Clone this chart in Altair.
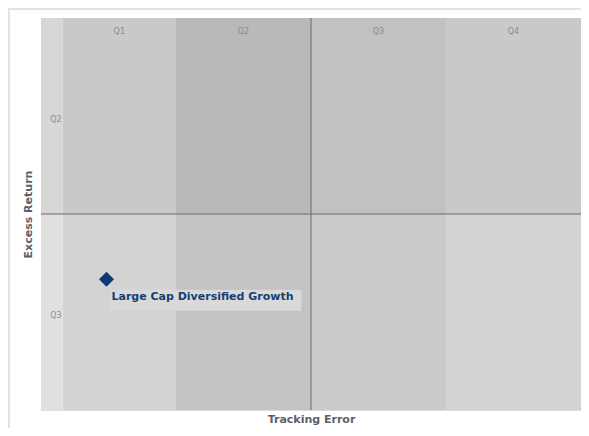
import altair as alt
import pandas as pd

# Band edges (Tracking Error on x, Excess Return on y)
x_edges = [0, 0.32, 2, 4, 6, 8]
y_edges = [-4, 0, 4]
col_names = ["", "Q1", "Q2", "Q3", "Q4"]
row_names = ["Q3", "Q2"]  # bottom, top
top_colors = ["#d7d7d7", "#c9c9c9", "#b9b9b9", "#c1c1c1", "#c9c9c9"]
bottom_colors = ["#e0e0e0", "#d3d3d3", "#c3c3c3", "#cacaca", "#d3d3d3"]

# Data point
funds = ["Large Cap Diversified Growth"]
tracking_error = [0.97]
excess_return = [-1.33]

bands = []
for r in range(2):
    colors = bottom_colors if r == 0 else top_colors
    for c in range(5):
        bands.append({"x": x_edges[c], "x2": x_edges[c + 1],
                      "y": y_edges[r], "y2": y_edges[r + 1], "color": colors[c]})
bands_df = pd.DataFrame(bands)

col_labels_df = pd.DataFrame({
    "x": [(x_edges[c] + x_edges[c + 1]) / 2 for c in range(1, 5)],
    "y": [y_edges[-1]] * 4,
    "label": col_names[1:],
})
row_labels_df = pd.DataFrame({
    "x": [x_edges[1]] * 2,
    "y": [(y_edges[r] + y_edges[r + 1]) / 2 for r in range(2)],
    "label": row_names,
})
pts_df = pd.DataFrame({"fund": funds, "te": tracking_error, "er": excess_return})
mid_df = pd.DataFrame({"xm": [x_edges[3]], "ym": [0]})

xs = alt.Scale(domain=[x_edges[0], x_edges[-1]], nice=False, zero=False)
ys = alt.Scale(domain=[y_edges[0], y_edges[-1]], nice=False, zero=False)

title_color = "#5b5f6b"
x_axis = alt.Axis(labels=False, ticks=False, domain=False, grid=False,
                  title="Tracking Error", titleFont="DejaVu Sans", titleFontSize=11,
                  titleFontWeight="bold", titleColor=title_color, titlePadding=3)
y_axis = alt.Axis(labels=False, ticks=False, domain=False, grid=False,
                  title="Excess Return", titleFont="DejaVu Sans", titleFontSize=11,
                  titleFontWeight="bold", titleColor=title_color, titlePadding=8)

rects = alt.Chart(bands_df).mark_rect().encode(
    x=alt.X("x:Q", scale=xs, axis=x_axis),
    x2="x2:Q",
    y=alt.Y("y:Q", scale=ys, axis=y_axis),
    y2="y2:Q",
    color=alt.Color("color:N", scale=None),
)

vline = alt.Chart(mid_df).mark_rule(color="#6a6a6a", strokeWidth=1).encode(
    x=alt.X("xm:Q", scale=xs))
hline = alt.Chart(mid_df).mark_rule(color="#6a6a6a", strokeWidth=1).encode(
    y=alt.Y("ym:Q", scale=ys))

col_text = alt.Chart(col_labels_df).mark_text(
    font="DejaVu Sans", fontSize=8, color="#8a8a8a", dy=14, baseline="middle"
).encode(x=alt.X("x:Q", scale=xs), y=alt.Y("y:Q", scale=ys), text="label:N")

row_text = alt.Chart(row_labels_df).mark_text(
    font="DejaVu Sans", fontSize=8, color="#8a8a8a", dx=-1, dy=4,
    align="right", baseline="middle"
).encode(x=alt.X("x:Q", scale=xs), y=alt.Y("y:Q", scale=ys), text="label:N")

label_box = alt.Chart(pts_df).mark_rect(
    color="#d9d9d9", xOffset=4, x2Offset=195, yOffset=10.5, y2Offset=31.5
).encode(x=alt.X("te:Q", scale=xs), x2="te:Q",
         y=alt.Y("er:Q", scale=ys), y2="er:Q")

points = alt.Chart(pts_df).mark_point(
    shape="diamond", filled=True, size=225, color="#0c3a6e", opacity=1
).encode(x=alt.X("te:Q", scale=xs), y=alt.Y("er:Q", scale=ys))

pt_text = alt.Chart(pts_df).mark_text(
    font="DejaVu Sans", fontSize=11, fontWeight="bold", color="#163f73",
    align="left", baseline="alphabetic", dx=5, dy=21
).encode(x=alt.X("te:Q", scale=xs), y=alt.Y("er:Q", scale=ys), text="fund:N")

frame_top = alt.Chart(mid_df).mark_rule(color="#e3e3e3", strokeWidth=2).encode(
    x=alt.value(-33), x2=alt.value(545), y=alt.value(-9))
frame_left = alt.Chart(mid_df).mark_rule(color="#e3e3e3", strokeWidth=2).encode(
    x=alt.value(-32), y=alt.value(-10), y2=alt.value(420))

chart = alt.layer(
    rects, vline, hline, col_text, row_text, label_box, points, pt_text,
    frame_top, frame_left
).properties(
    width=540, height=392,
    autosize=alt.AutoSizeParams(type="none"),
    padding={"left": 33, "top": 10, "right": 0, "bottom": 18},
).configure_view(strokeWidth=0).configure(background="white")

chart.save("out.html", embed_options={"renderer": "svg", "actions": False})
